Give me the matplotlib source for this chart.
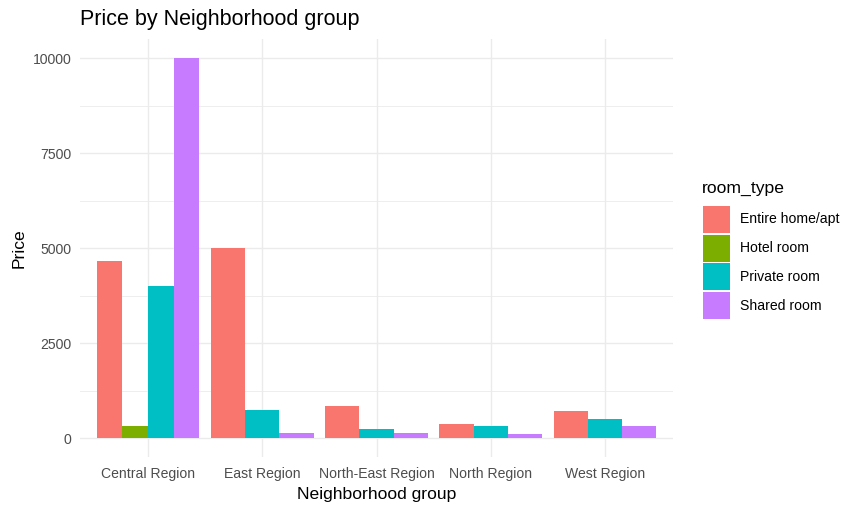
import matplotlib
matplotlib.use("Agg")
import matplotlib.pyplot as plt
from matplotlib.patches import Rectangle
from matplotlib.ticker import MultipleLocator

plt.rcParams['font.family'] = ['Liberation Sans', 'DejaVu Sans']

# data
regions = ["Central Region", "East Region", "North-East Region", "North Region", "West Region"]
room_types = ["Entire home/apt", "Hotel room", "Private room", "Shared room"]
entire_home = [4660, 5000, 840, 370, 710]
hotel_room = [320, None, None, None, None]
private_room = [4000, 740, 240, 315, 500]
shared_room = [10000, 125, 130, 100, 320]
prices = [entire_home, hotel_room, private_room, shared_room]

colors = ["#F8766D", "#7CAE00", "#00BFC4", "#C77CFF"]
W, H = 862, 512

fig = plt.figure(figsize=(W / 100, H / 100), dpi=100)
ax = fig.add_axes([79.5 / W, (H - 457) / H, (673.5 - 79.5) / W, (457 - 39.3) / H])

# ggplot-style dodge: each group shares 0.9 between the room types present
for t, (name, vals) in enumerate(zip(room_types, prices)):
    xs, ws, hs = [], [], []
    for i in range(len(regions)):
        present = [k for k in range(len(room_types)) if prices[k][i] is not None]
        if vals[i] is None:
            continue
        w = 0.9 / len(present)
        k = present.index(t)
        xs.append(i - 0.45 + w * (k + 0.5))
        ws.append(w)
        hs.append(vals[i])
    ax.bar(xs, hs, width=ws, color=colors[t], zorder=3, linewidth=0)

ax.set_xlim(-0.6, len(regions) - 0.4)
ax.set_ylim(-500, 10500)
ax.set_xticks(range(len(regions)))
ax.set_xticklabels(regions)
ax.yaxis.set_major_locator(MultipleLocator(2500))
ax.set_yticks([1250, 3750, 6250, 8750], minor=True)

ax.grid(which="major", color="#EBEBEB", linewidth=1.0, zorder=0)
ax.grid(which="minor", axis="y", color="#EBEBEB", linewidth=0.6, zorder=0)
for s in ax.spines.values():
    s.set_visible(False)
ax.tick_params(which="both", length=0)
ax.tick_params(axis="x", pad=7, labelsize=10.1, labelcolor="#4D4D4D")
ax.tick_params(axis="y", pad=6, labelsize=10.1, labelcolor="#4D4D4D")

ax.set_xlabel("Neighborhood group", fontsize=12.6, labelpad=4.5)
ax.set_ylabel("Price", fontsize=12.6, labelpad=4)
ax.set_title("Price by Neighborhood group", fontsize=15.5, loc="left", pad=10)

# legend drawn by hand so the keys match ggplot's square boxes (pixel layout)
fig.text(701.5 / W, (H - 193) / H, "room_type", fontsize=12.6, ha="left", va="baseline")
for t, name in enumerate(room_types):
    top = 206 + 28.7 * t
    fig.add_artist(Rectangle((702.7 / W, (H - top - 27) / H), 27.3 / W, 27 / H,
                             transform=fig.transFigure, facecolor=colors[t], edgecolor="none"))
    fig.text(740 / W, (H - top - 13.5) / H, name, fontsize=10.1, ha="left", va="center")

fig.savefig("out.png", dpi=100)
